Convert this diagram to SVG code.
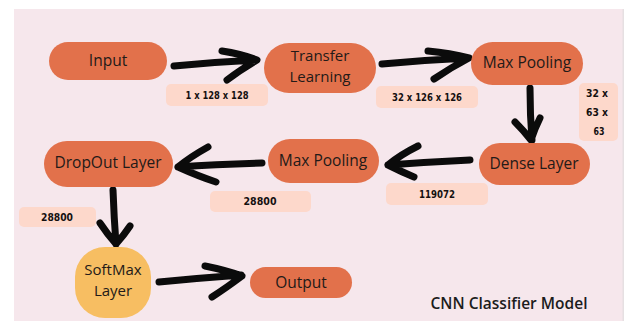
<svg xmlns="http://www.w3.org/2000/svg" width="627" height="321" viewBox="0 0 627 321">
  <style>
    .node { fill: #e2714b; }
    .soft { fill: #f7be62; }
    .tag { fill: #fdd8cb; }
    .nt { font-family: "Open Sans", "Noto Sans", sans-serif; font-size: 15.5px; font-weight: 500; fill: #231a18; text-anchor: middle; }
    .two { font-size: 15px; }
    .tt { font-family: "DejaVu Sans Condensed", "DejaVu Sans", sans-serif; font-size: 11px; font-weight: bold; fill: #141010; text-anchor: middle; }
    .arrow { fill: none; stroke: #0b0b0b; stroke-width: 7; stroke-linecap: round; stroke-linejoin: round; }
    .title { font-family: "Open Sans", "Noto Sans", sans-serif; font-size: 15.5px; font-weight: 600; fill: #1c1c1c; text-anchor: middle; }
  </style>

  <!-- page and panel -->
  <rect x="0" y="0" width="627" height="321" fill="#ffffff"/>
  <rect x="14" y="9" width="609" height="312" fill="#f6e7ec"/>
  <rect x="622.5" y="9" width="1.5" height="312" fill="#e6e0e2"/>

  <!-- connectors -->
  <g id="connectors">
    <path class="arrow" d="M174 66 Q215 62 256 60 M222 51 Q242 54 257 60 Q240 70 227 80"/>
    <path class="arrow" d="M382 64 Q425 60 468 58 M428 51 Q450 53 469 58 Q450 68 434 79"/>
    <path class="arrow" d="M530 88 Q530 115 532 140 M515 122 Q524 131 531 140 Q535 128 540 118"/>
    <path class="arrow" d="M470 160 Q428 162 388 165 M418 146 Q400 155 388 165 Q402 172 414 177"/>
    <path class="arrow" d="M262 163 Q218 164 178 167 M208 147 Q190 157 178 167 Q198 176 216 182"/>
    <path class="arrow" d="M113 190 Q114 218 116 244 M100 223 Q108 235 116 244 Q124 235 130 226"/>
    <path class="arrow" d="M159 282 Q200 278 241 275 M205 266 Q225 270 242 276 Q226 288 212 297"/>
  </g>

  <!-- edge labels -->
  <g id="edge-labels">
    <rect class="tag" x="166" y="84" width="102" height="22" rx="5"/>
    <text class="tt" x="217" y="99" textLength="63" lengthAdjust="spacingAndGlyphs">1 x 128 x 128</text>
    <rect class="tag" x="376" y="86" width="102" height="22" rx="5"/>
    <text class="tt" x="427" y="101" textLength="70" lengthAdjust="spacingAndGlyphs">32 x 126 x 126</text>
    <rect class="tag" x="579" y="83" width="39" height="58" rx="5"/>
    <text class="tt" x="597" y="97" textLength="22" lengthAdjust="spacingAndGlyphs">32 x</text>
    <text class="tt" x="597" y="116" textLength="22" lengthAdjust="spacingAndGlyphs">63 x</text>
    <text class="tt" x="599" y="135" textLength="11" lengthAdjust="spacingAndGlyphs">63</text>
    <rect class="tag" x="386" y="183" width="102" height="22" rx="5"/>
    <text class="tt" x="437" y="198" textLength="36" lengthAdjust="spacingAndGlyphs">119072</text>
    <rect class="tag" x="210" y="191" width="101" height="21" rx="5"/>
    <text class="tt" x="260" y="205" textLength="33" lengthAdjust="spacingAndGlyphs">28800</text>
    <rect class="tag" x="19" y="207" width="77" height="20" rx="5"/>
    <text class="tt" x="57" y="221" textLength="32" lengthAdjust="spacingAndGlyphs">28800</text>
  </g>

  <!-- nodes -->
  <g id="input">
    <rect class="node" x="49" y="42" width="118" height="38" rx="19"/>
    <text class="nt" x="108" y="66">Input</text>
  </g>
  <g id="transfer-learning">
    <rect class="node" x="264" y="43" width="112" height="50" rx="25"/>
    <text class="nt two" x="320" y="61">Transfer</text>
    <text class="nt two" x="320" y="82">Learning</text>
  </g>
  <g id="max-pooling-1">
    <rect class="node" x="471" y="42" width="112" height="43" rx="21.5"/>
    <text class="nt" x="527" y="68">Max Pooling</text>
  </g>
  <g id="dense-layer">
    <rect class="node" x="479" y="143" width="111" height="42" rx="21"/>
    <text class="nt" x="534" y="169">Dense Layer</text>
  </g>
  <g id="max-pooling-2">
    <rect class="node" x="268" y="139" width="111" height="44" rx="22"/>
    <text class="nt" x="323" y="166">Max Pooling</text>
  </g>
  <g id="dropout-layer">
    <rect class="node" x="44" y="141" width="129" height="46" rx="23"/>
    <text class="nt" x="108" y="168">DropOut Layer</text>
  </g>
  <g id="softmax-layer">
    <rect class="soft" x="75" y="247" width="76" height="71" rx="30"/>
    <text class="nt two" x="113" y="275" style="font-weight:400">SoftMax</text>
    <text class="nt two" x="113" y="296" style="font-weight:400">Layer</text>
  </g>
  <g id="output">
    <rect class="node" x="250" y="267" width="102" height="31" rx="15.5"/>
    <text class="nt" x="301" y="288">Output</text>
  </g>

  <text class="title" x="509" y="309">CNN Classifier Model</text>
</svg>
